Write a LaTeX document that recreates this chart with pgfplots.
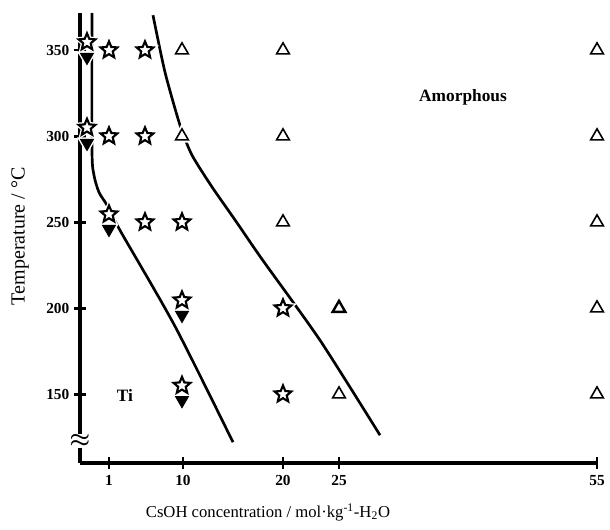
\documentclass[border=0pt]{standalone}
\usepackage{fontspec}
\setmainfont{Liberation Serif}
\usepackage{pgfplots}
\usepackage{pgfplotstable}
\pgfplotsset{compat=1.18}

\pgfdeclareplotmark{ostar}{%
  \pgfpathmoveto{\pgfpointpolar{90}{\pgfplotmarksize}}%
  \pgfpathlineto{\pgfpointpolar{126}{0.45*\pgfplotmarksize}}%
  \pgfpathlineto{\pgfpointpolar{162}{\pgfplotmarksize}}%
  \pgfpathlineto{\pgfpointpolar{198}{0.45*\pgfplotmarksize}}%
  \pgfpathlineto{\pgfpointpolar{234}{\pgfplotmarksize}}%
  \pgfpathlineto{\pgfpointpolar{270}{0.45*\pgfplotmarksize}}%
  \pgfpathlineto{\pgfpointpolar{306}{\pgfplotmarksize}}%
  \pgfpathlineto{\pgfpointpolar{342}{0.45*\pgfplotmarksize}}%
  \pgfpathlineto{\pgfpointpolar{18}{\pgfplotmarksize}}%
  \pgfpathlineto{\pgfpointpolar{54}{0.45*\pgfplotmarksize}}%
  \pgfpathclose
  \pgfusepathqfillstroke
}

% x positions: 1 -> 109, 10 -> 183, 20 -> 283, 25 -> 339, 55 -> 597 (broken scale)
\pgfplotstableread{
x T
182 350
283 350
597 350
182 300
283 300
597 300
283 250
597 250
597 200
339 150
597 150
}\opentri
\pgfplotstableread{
x T
339 200
}\opentribold
\pgfplotstableread{
x T
109 350
145 350
109 300
145 300
145 250
182 250
283 200
283 150
87 354.7
87 305
109 254.6
182 204.6
182 155
}\stars
\pgfplotstableread{
x T
87 346
87 296
109 246
182 196
182 146.5
}\downtri

\begin{document}
\begin{tikzpicture}
\begin{axis}[
  scale only axis,
  width=387.75pt, height=337.5pt,
  xmin=80, xmax=597, ymin=110, ymax=371.6,
  axis x line=bottom, axis y line=left,
  axis line style={line width=3pt, -},
  clip=false,
  xtick={109,183,283,339,597},
  xticklabels={1,10,20,25,55},
  ytick={150,200,250,300,350},
  yticklabels={150,200,250,300,350},
  tick align=center,
  major tick length=9pt,
  tick style={line width=2pt, black},
  ticklabel style={font=\fontsize{11.5}{13}\selectfont\bfseries},
  xticklabel style={yshift=-1pt},
  xlabel={CsOH concentration / mol·kg\textsuperscript{-1}-H\textsubscript{2}O},
  ylabel={Temperature / °C},
  xlabel style={font=\fontsize{12.5}{14}\selectfont, at={(rel axis cs:0.3636,-0.109)}, anchor=center},
  ylabel style={font=\fontsize{15}{17}\selectfont, at={(rel axis cs:-0.116,0.504)}, anchor=center, rotate=0},
]
% phase boundaries
\addplot[line width=2pt, smooth, tension=0.45] coordinates {
  (92,371.6) (92,291.9) (94,277.3) (99,267.4) (107,259.9)
  (120,245.3) (175,189.5) (233,122.1)};
\addplot[line width=2pt, smooth, tension=0.4] coordinates {
  (153,370.3) (165,337.2) (180,306.4) (192,289.0) (212,270.5)
  (236,250.5) (262,228.5) (320,181.4) (380,126.2)};
% white halos
\addplot[only marks, mark=triangle*, mark size=5.5pt, mark options={draw=white, fill=white, line width=4pt}] table {\opentri};
\addplot[only marks, mark=triangle*, mark size=5.5pt, mark options={draw=white, fill=white, line width=4pt}] table {\opentribold};
\addplot[only marks, mark=triangle*, mark size=5.5pt, mark options={rotate=180, draw=white, fill=white, line width=3pt}] table {\downtri};
\addplot[only marks, mark=ostar, mark size=6.6pt, mark options={draw=white, fill=white, line width=3.5pt}] table {\stars};
% markers
\addplot[only marks, mark=triangle*, mark size=5.5pt, mark options={draw=black, fill=white, line width=1.2pt}] table {\opentri};
\addplot[only marks, mark=triangle*, mark size=5.5pt, mark options={draw=black, fill=white, line width=1.8pt}] table {\opentribold};
\addplot[only marks, mark=triangle*, mark size=5.5pt, mark options={rotate=180, draw=black, fill=black, line width=0.8pt}] table {\downtri};
\addplot[only marks, mark=ostar, mark size=6.6pt, mark options={draw=black, fill=white, line width=1.6pt, line join=miter}] table {\stars};
% axis break
\node[fill=white, inner sep=0.5pt, font=\LARGE\boldmath] at (axis cs:80,123) {$\approx$};
% region labels
\node[font=\fontsize{13}{15}\selectfont\bfseries] at (axis cs:125,149.4) {Ti};
\node[font=\fontsize{13}{15}\selectfont\bfseries] at (axis cs:463,322.7) {Amorphous};
\coordinate (bbl) at (rel axis cs:-0.1547,-0.1467);
\coordinate (btr) at (rel axis cs:1.0251,1.0289);
\end{axis}
\pgfresetboundingbox
\path (bbl) rectangle (btr);
\end{tikzpicture}
\end{document}
